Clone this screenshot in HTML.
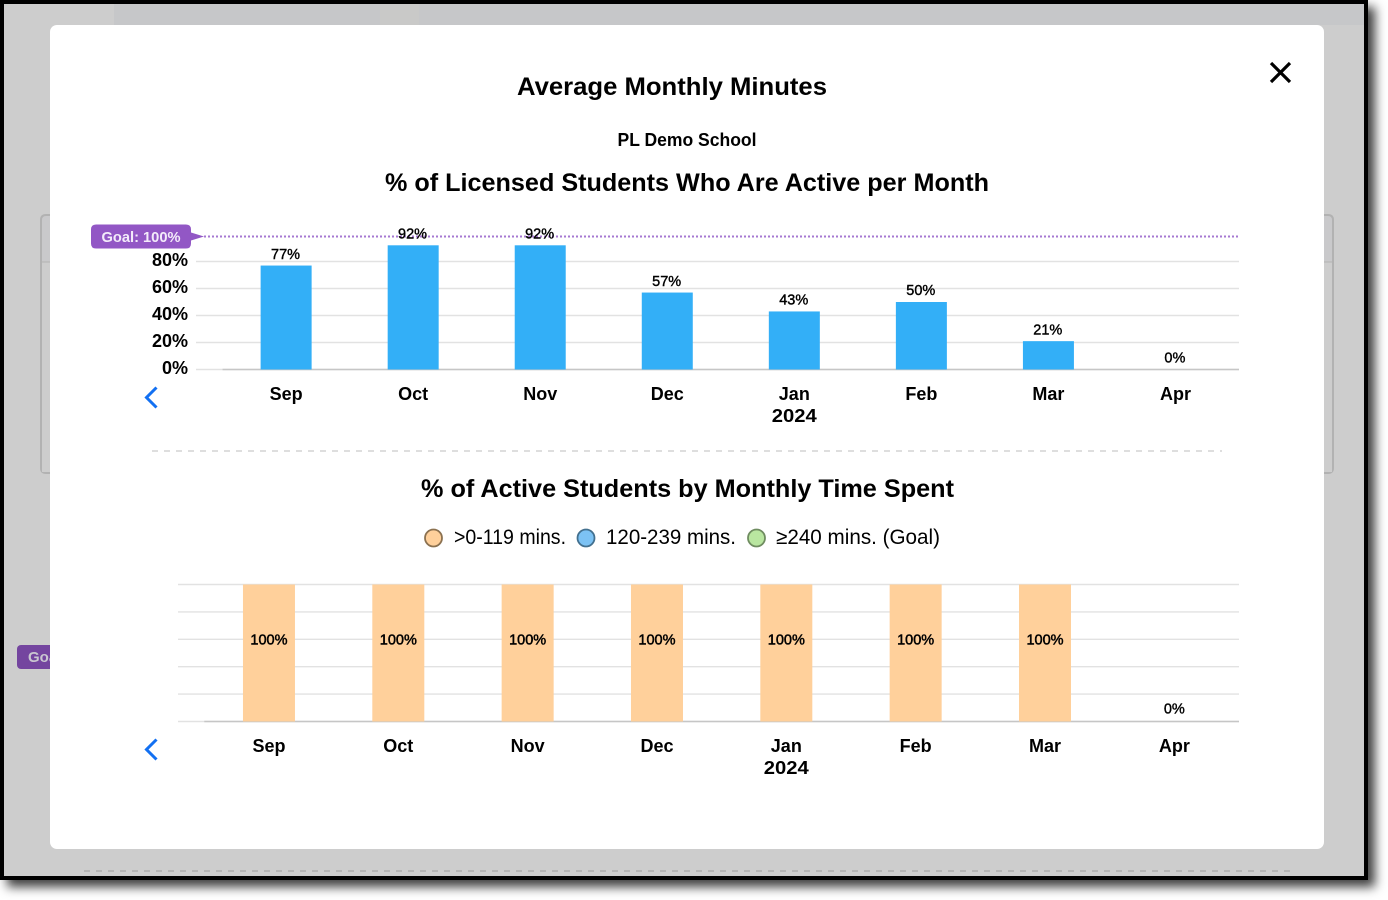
<!DOCTYPE html>
<html lang="en">
<head>
<meta charset="utf-8">
<title>Average Monthly Minutes</title>
<style>
html,body{margin:0;padding:0;width:1388px;height:900px;background:#fff;overflow:hidden}
#frame{position:absolute;left:0;top:0;width:1368px;height:880px;box-sizing:border-box;border:4px solid #000;background:#cdcdcd;box-shadow:7px 7px 10px rgba(0,0,0,.75)}
svg{position:absolute;left:0;top:0}
text{font-family:"Liberation Sans",sans-serif;fill:#000}
.t{font-weight:700}
</style>
</head>
<body>
<div id="frame"></div>
<svg id="stage" width="1388" height="900" viewBox="0 0 1388 900">
  <g>
    <rect x="114" y="4" width="266" height="21" fill="#c6c7c9"/>
    <rect x="380" y="4" width="39" height="21" fill="#c9c9c8"/>
    <rect x="419" y="4" width="945" height="21" fill="#c6c7c9"/>
    <path d="M50 215H46Q41 215 41 220V468Q41 473 46 473H50" fill="#c9c9cb" stroke="#b2b2b2" stroke-width="2"/>
    <path d="M1324 215H1328Q1333 215 1333 220V468Q1333 473 1328 473H1324" fill="#c9c9cb" stroke="#b2b2b2" stroke-width="2"/>
    <rect x="42" y="262" width="8" height="210" fill="#cdcdcd"/>
    <rect x="1324" y="262" width="8" height="210" fill="#cdcdcd"/>
    <line x1="42" x2="50" y1="262" y2="262" stroke="#b2b2b2"/>
    <line x1="1324" x2="1332" y1="262" y2="262" stroke="#b2b2b2"/>
    <rect x="17" y="645" width="50" height="24" rx="4" fill="#74459f"/>
    <text x="28" y="662" font-size="15" class="t" style="fill:#c9c6d0">Goal</text>
    <line x1="84" x2="1290" y1="871" y2="871" stroke="#b4b4b4" stroke-width="2" stroke-dasharray="6 6"/>
  </g>

  <rect x="50" y="25" width="1274" height="824" rx="7" fill="#fff"/>

  <text class="t" x="672" y="95" font-size="25" text-anchor="middle" textLength="310" lengthAdjust="spacingAndGlyphs">Average Monthly Minutes</text>
  <path d="M1271 63L1290 82M1290 63L1271 82" stroke="#000" stroke-width="3.2" fill="none"/>
  <text class="t" x="687" y="146" font-size="18" text-anchor="middle" textLength="139" lengthAdjust="spacingAndGlyphs">PL Demo School</text>
  <text class="t" x="687" y="191" font-size="25" text-anchor="middle" textLength="604" lengthAdjust="spacingAndGlyphs">% of Licensed Students Who Are Active per Month</text>

  <g id="activeChart"></g>

  <path d="M156.5 387.5L146.5 397.5L156.5 407.5" fill="none" stroke="#1270f2" stroke-width="3"/>

  <line x1="152" x2="1222" y1="451" y2="451" stroke="#d4d4d4" stroke-width="1.6" stroke-dasharray="6 6"/>

  <text class="t" x="687.5" y="497" font-size="25" text-anchor="middle" textLength="533" lengthAdjust="spacingAndGlyphs">% of Active Students by Monthly Time Spent</text>

  <g>
    <g>
      <circle cx="433.5" cy="538" r="8.5" fill="#ffd09b" stroke="#8b7150" stroke-width="1.8"/>
      <text x="454" y="544" font-size="21" textLength="112" lengthAdjust="spacingAndGlyphs">&gt;0-119 mins.</text>
    </g>
    <g>
      <circle cx="586" cy="538" r="8.5" fill="#7cc2f4" stroke="#43708f" stroke-width="1.8"/>
      <text x="606" y="544" font-size="21" textLength="130" lengthAdjust="spacingAndGlyphs">120-239 mins.</text>
    </g>
    <g>
      <circle cx="756.5" cy="538" r="8.5" fill="#b9e6a0" stroke="#6f8c60" stroke-width="1.8"/>
      <text x="776" y="544" font-size="21" textLength="164" lengthAdjust="spacingAndGlyphs">≥240 mins. (Goal)</text>
    </g>
  </g>

  <g id="timeChart"></g>

  <path d="M156.5 739.5L146.5 749.5L156.5 759.5" fill="none" stroke="#1270f2" stroke-width="3"/>
</svg>

<script>
// ---- data ----
const months = ['Sep', 'Oct', 'Nov', 'Dec', 'Jan', 'Feb', 'Mar', 'Apr'];
const yearLabels = ['', '', '', '', '2024', '', '', ''];
const activePercent = [77, 92, 92, 57, 43, 50, 21, 0];
const activeTicks = [0, 20, 40, 60, 80];
const goalPercent = 100;
const lowShare = [100, 100, 100, 100, 100, 100, 100, 0];
const midShare = [0, 0, 0, 0, 0, 0, 0, 0];
const goalShare = [0, 0, 0, 0, 0, 0, 0, 0];
const timeTicks = [0, 20, 40, 60, 80, 100];

// ---- helpers ----
const NS = 'http://www.w3.org/2000/svg';
function make(parent, tag, attrs, content) {
  const el = document.createElementNS(NS, tag);
  for (const k in attrs) el.setAttribute(k, attrs[k]);
  if (content !== undefined) el.textContent = content;
  parent.appendChild(el);
  return el;
}
const GRID = '#e2e2e2', AXIS = '#c6c6c6';

// ---- chart 1 ----
(function () {
  const root = document.getElementById('activeChart');
  const left = 222.6, right = 1239, gridLeft = 196, y0 = 369.5, pxPerPct = 1.35, barW = 51, goalOffset = 2;
  const band = (right - left) / months.length;
  const x = i => left + band * (i + 0.5);
  const y = v => y0 - v * pxPerPct;

  activeTicks.forEach(t => {
    const line = make(root, 'line', {x1: gridLeft, x2: right, y1: y(t), y2: y(t), stroke: GRID, 'stroke-width': 1.4});
    
    
    const label = make(root, 'text', {x: 188, y: y(t) + 4.5, 'font-size': 18, 'font-weight': 700, 'text-anchor': 'end'}, t + '%');
    
    
  });
  const axis = make(root, 'line', {x1: left, x2: right, y1: y0, y2: y0, stroke: AXIS, 'stroke-width': 1.6});
  
  

  const gy = y(goalPercent) + goalOffset;
  const goalLine = make(root, 'line', {x1: 204, x2: right, y1: gy, y2: gy, stroke: '#a678d2', 'stroke-width': 2, 'stroke-dasharray': '2 2'});
  
  
  const pill = make(root, 'path', {d: `M96 ${gy - 12}H186Q191 ${gy - 12} 191 ${gy - 7}V${gy - 4}L204 ${gy}L191 ${gy + 4}V${gy + 7}Q191 ${gy + 12} 186 ${gy + 12}H96Q91 ${gy + 12} 91 ${gy + 7}V${gy - 7}Q91 ${gy - 12} 96 ${gy - 12}Z`, fill: '#9257c5'});
  
  
  const goalText = make(root, 'text', {x: 141, y: gy + 5.5, 'font-size': 15, 'font-weight': 700, 'text-anchor': 'middle', style: 'fill:#f3ebfa', textLength: 79, lengthAdjust: 'spacingAndGlyphs'}, 'Goal: ' + goalPercent + '%');
  
  

  activePercent.forEach((v, i) => {
    const bar = make(root, 'rect', {x: x(i) - barW / 2, y: y(v), width: barW, height: y0 - y(v), fill: '#33aff7'});
    
    
    const val = make(root, 'text', {x: x(i) - 0.6, y: y(v) - 6.8, 'font-size': 14.5, 'text-anchor': 'middle', stroke: '#000', 'stroke-width': 0.4}, v + '%');
    
    
    const cat = make(root, 'text', {x: x(i), y: 400, 'font-size': 18, 'font-weight': 700, 'text-anchor': 'middle'}, months[i]);
    
    
    if (yearLabels[i]) {
      const yr = make(root, 'text', {x: x(i), y: 422, 'font-size': 18, 'font-weight': 700, 'text-anchor': 'middle', textLength: 45, lengthAdjust: 'spacingAndGlyphs'}, yearLabels[i]);
      
      
    }
  });
})();

// ---- chart 2 ----
(function () {
  const root = document.getElementById('timeChart');
  const left = 204.3, right = 1239, gridLeft = 178, y0 = 721.5, pxPerPct = 1.37, barW = 52, labelFraction = 0.6;
  const band = (right - left) / months.length;
  const x = i => left + band * (i + 0.5);
  const y = v => y0 - v * pxPerPct;
  const colors = ['#ffd09b', '#7cc2f4', '#b9e6a0'];
  const series = [lowShare, midShare, goalShare];

  timeTicks.forEach(t => {
    const line = make(root, 'line', {x1: gridLeft, x2: right, y1: y(t), y2: y(t), stroke: GRID, 'stroke-width': 1.4});
    
    
  });
  const axis = make(root, 'line', {x1: left, x2: right, y1: y0, y2: y0, stroke: AXIS, 'stroke-width': 1.6});
  
  

  months.forEach((m, i) => {
    let base = 0;
    series.forEach((s, k) => {
      const v = s[i];
      if (v > 0) {
        const seg = make(root, 'rect', {x: x(i) - barW / 2, y: y(base + v), width: barW, height: v * pxPerPct, fill: colors[k]});
        
        
        const val = make(root, 'text', {x: x(i), y: y(base + v * labelFraction) + 5, 'font-size': 14.5, 'text-anchor': 'middle', stroke: '#000', 'stroke-width': 0.5}, v + '%');
        
        
      }
      base += v;
    });
    if (base === 0) {
      const zero = make(root, 'text', {x: x(i), y: y0 - 8, 'font-size': 14.5, 'text-anchor': 'middle', stroke: '#000', 'stroke-width': 0.4}, '0%');
      
      
    }
    const cat = make(root, 'text', {x: x(i), y: 752, 'font-size': 18, 'font-weight': 700, 'text-anchor': 'middle'}, m);
    
    
    if (yearLabels[i]) {
      const yr = make(root, 'text', {x: x(i), y: 774, 'font-size': 18, 'font-weight': 700, 'text-anchor': 'middle', textLength: 45, lengthAdjust: 'spacingAndGlyphs'}, yearLabels[i]);
      
      
    }
  });
})();
</script>
</body>
</html>
